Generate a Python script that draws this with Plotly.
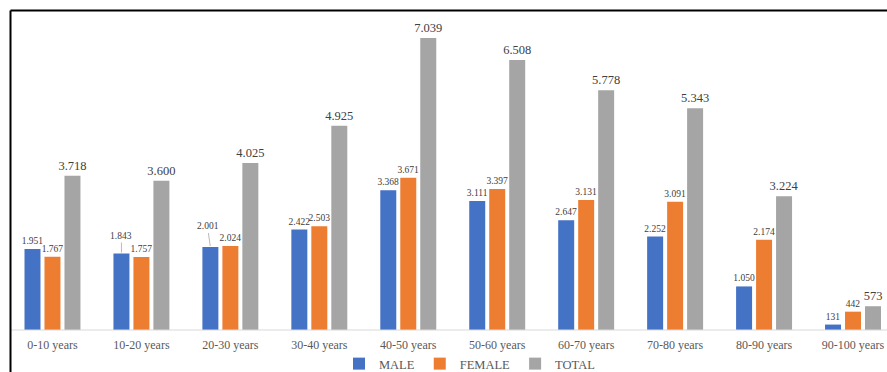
import plotly.graph_objects as go

categories = ["0-10 years", "10-20 years", "20-30 years", "30-40 years", "40-50 years",
              "50-60 years", "60-70 years", "70-80 years", "80-90 years", "90-100 years"]
male = [1951, 1843, 2001, 2422, 3368, 3111, 2647, 2252, 1050, 131]
female = [1767, 1757, 2024, 2503, 3671, 3397, 3131, 3091, 2174, 442]
total = [3718, 3600, 4025, 4925, 7039, 6508, 5778, 5343, 3224, 573]

# labels drawn with a leader line in the original (MALE series, by category index)
leader_idx = [1, 2]
leader_ay = {1: -11, 2: -14}
leader_ax = {1: 0, 2: -2}

def fmt(v):
    return f"{v:,}".replace(",", ".")

FONT = "Liberation Serif, Times New Roman, serif"
LBL = "#404040"

W, H = 887, 372
ML, MR, MT, MB = 8, 0, 12, 42
x_lo, x_hi = -0.5, 9.5 - 10.5 / 89.0
y_max = 7666
plot_w = W - ML - MR
cat_px = plot_w / (x_hi - x_lo)
bargap, groupgap = 0.326, 0.2
slot_px = cat_px * (1 - bargap) / 3

fig = go.Figure()
male_text = ["" if i in leader_idx else fmt(v) for i, v in enumerate(male)]
fig.add_trace(go.Bar(name="MALE", x=categories, y=male, marker_color="#4472C4",
                     text=male_text, textposition="outside",
                     textfont=dict(size=9.5, color=LBL, family=FONT)))
fig.add_trace(go.Bar(name="FEMALE", x=categories, y=female, marker_color="#ED7D31",
                     text=[fmt(v) for v in female], textposition="outside",
                     textfont=dict(size=9.5, color=LBL, family=FONT)))
fig.add_trace(go.Bar(name="TOTAL", x=categories, y=total, marker_color="#A5A5A5",
                     text=[fmt(v) for v in total], textposition="outside",
                     textfont=dict(size=12.5, color=LBL, family=FONT)))
fig.update_traces(constraintext="none", cliponaxis=False, marker_line_width=0)

for i in leader_idx:
    fig.add_annotation(x=categories[i], y=male[i], text=fmt(male[i]), xshift=-slot_px,
                       showarrow=True, arrowhead=0, arrowwidth=0.8, arrowcolor="#A6A6A6",
                       ax=leader_ax[i], ay=leader_ay[i], standoff=1, startstandoff=0,
                       yanchor="bottom",
                       font=dict(size=9.5, color=LBL, family=FONT))

# baseline
fig.add_shape(type="line", xref="paper", yref="paper",
              x0=(10 - ML) / plot_w, x1=1.02, y0=0, y1=0,
              line=dict(color="#D9D9D9", width=1))
# chart border (top and left, cropped)
plot_h = H - MT - MB
fig.add_shape(type="line", xref="paper", yref="paper",
              x0=(10.5 - ML) / plot_w, x1=1.05,
              y0=(H - MB - 10.5) / plot_h, y1=(H - MB - 10.5) / plot_h,
              line=dict(color="#000000", width=2))
fig.add_shape(type="line", xref="paper", yref="paper",
              x0=(10.5 - ML) / plot_w, x1=(10.5 - ML) / plot_w,
              y0=(H - MB - 10.5) / plot_h, y1=-0.3,
              line=dict(color="#000000", width=2))

fig.update_layout(
    width=W, height=H,
    margin=dict(l=ML, r=MR, t=MT, b=MB, autoexpand=False),
    paper_bgcolor="white", plot_bgcolor="white",
    barmode="group", bargap=bargap, bargroupgap=groupgap,
    font=dict(family=FONT, color="#595959", size=12),
    xaxis=dict(range=[x_lo, x_hi], showline=False, showgrid=False, zeroline=False,
               ticks="outside", ticklen=4, tickcolor="rgba(0,0,0,0)",
               tickfont=dict(size=12, color="#595959", family=FONT)),
    yaxis=dict(range=[0, y_max], visible=False, showgrid=False),
    showlegend=True,
    legend=dict(orientation="h", x=0.525, xanchor="center",
                yref="container", y=(H - 364) / H, yanchor="middle",
                font=dict(size=12.5, color="#595959", family=FONT),
                itemwidth=30, tracegroupgap=0, bgcolor="rgba(0,0,0,0)"),
)

fig.write_html("out.html")
